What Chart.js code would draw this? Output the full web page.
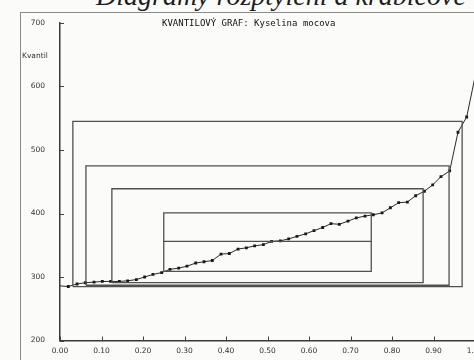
<!DOCTYPE html>
<html>
<head>
<meta charset="utf-8">
<script src="https://cdn.jsdelivr.net/npm/chart.js@4.4.0/dist/chart.umd.min.js"></script>
<style>
  html, body { margin:0; padding:0; width:474px; height:360px; overflow:hidden; background:#fbfbf9; }
  #frame { position:absolute; left:20px; top:12px; width:520px; height:400px; border-left:1.5px solid #8a8a8a; border-top:1.5px solid #8a8a8a; }
  #heading { position:absolute; left:96px; top:-18px; font:italic 28px "Liberation Serif", serif; line-height:28px; color:#1e1e1e; white-space:nowrap; }
  #title { position:absolute; left:162px; top:18px; font:9px "DejaVu Sans Mono", monospace; line-height:10px; color:#111; white-space:nowrap; }
  #ylab { position:absolute; left:22px; top:52px; font:7.5px "DejaVu Sans", sans-serif; line-height:8px; color:#333; }
  #c { position:absolute; left:0; top:0; }
</style>
</head>
<body>
<div id="frame"></div>
<div id="heading">Diagramy rozptýlení a krabicové</div>
<canvas id="c" width="520" height="360"></canvas>
<div id="title">KVANTILOVÝ GRAF: Kyselina mocova</div>
<div id="ylab">Kvantil</div>
<script>
  // kvantilove pozice (i/49) a hodnoty
  const pozice = [0, 0.020, 0.041, 0.061, 0.082, 0.102, 0.122, 0.143, 0.163, 0.184, 0.204,
    0.224, 0.245, 0.265, 0.286, 0.306, 0.327, 0.347, 0.367, 0.388, 0.408,
    0.429, 0.449, 0.469, 0.490, 0.510, 0.531, 0.551, 0.571, 0.592, 0.612,
    0.633, 0.653, 0.673, 0.694, 0.714, 0.735, 0.755, 0.776, 0.796, 0.816,
    0.837, 0.857, 0.878, 0.898, 0.918, 0.939, 0.959, 0.980, 1];
  const kvantily = [286, 285, 289, 291, 292, 293, 293, 293, 294, 296, 300,
    304, 307, 312, 314, 317, 322, 324, 326, 336, 337,
    344, 346, 349, 351, 356, 357, 360, 364, 368, 373,
    378, 384, 383, 388, 393, 396, 398, 401, 409, 417,
    418, 428, 435, 445, 458, 467, 528, 552, 615];

  // krabice: kvartily, oktily, sedecily, ...
  const boxLeft   = [0.031, 0.0625, 0.125, 0.25];
  const boxRight  = [0.969, 0.9375, 0.875, 0.75];
  const boxBottom = [285, 287, 291, 309];
  const boxTop    = [545, 475, 439, 401];
  const median = 356;

  const xTicks = [0, 0.1, 0.2, 0.3, 0.4, 0.5, 0.6, 0.7, 0.8, 0.9, 1.0];
  const yTicks = [200, 300, 400, 500, 600, 700];

  const boxSets = boxLeft.map((l,i)=>({
    data:[
      {x:l, y:boxBottom[i]}, {x:l, y:boxTop[i]}, {x:boxRight[i], y:boxTop[i]},
      {x:boxRight[i], y:boxBottom[i]}, {x:l, y:boxBottom[i]}
    ],
    borderColor:'#505050', borderWidth:1.3, pointRadius:0, tension:0, fill:false
  }));
  boxSets.push({
    data:[{x:boxLeft[3], y:median}, {x:boxRight[3], y:median}],
    borderColor:'#505050', borderWidth:1.3, pointRadius:0, fill:false
  });

  const curve = {
    data: pozice.map((p,i)=>({x:p, y:kvantily[i]})),
    borderColor:'#2a2a2a', borderWidth:1,
    pointStyle:'rect',
    pointRadius: ctx => (ctx.dataIndex===0 || ctx.dataIndex===pozice.length-1) ? 0 : 2,
    pointBackgroundColor:'#1a1a1a', pointBorderColor:'#1a1a1a', pointBorderWidth:0,
    tension:0, fill:false
  };

  // male znacky smerem dovnitr grafu
  const innerTicks = {
    id:'innerTicks',
    afterDraw(chart){
      const {x, y} = chart.scales;
      const ctx = chart.ctx;
      ctx.save();
      ctx.strokeStyle = '#444';
      ctx.lineWidth = 1;
      yTicks.forEach(v=>{
        const py = Math.round(y.getPixelForValue(v)) + 0.5;
        ctx.beginPath(); ctx.moveTo(x.left, py); ctx.lineTo(x.left+4, py); ctx.stroke();
      });
      xTicks.forEach(v=>{
        const px = Math.round(x.getPixelForValue(v)) + 0.5;
        ctx.beginPath(); ctx.moveTo(px, y.bottom); ctx.lineTo(px, y.bottom-4); ctx.stroke();
      });
      ctx.restore();
    }
  };

  new Chart(document.getElementById('c').getContext('2d'), {
    type:'line',
    data:{ datasets:[...boxSets, curve] },
    options:{
      responsive:false, animation:false, devicePixelRatio:1,
      layout:{ padding:{ left:0, top:23, right:45, bottom:0 } },
      plugins:{ legend:{display:false}, tooltip:{enabled:false}, title:{display:false} },
      scales:{
        x:{
          type:'linear', min:0, max:1,
          afterFit(s){ s.height = 17; },
          afterBuildTicks(s){ s.ticks = xTicks.map(v=>({value:v})); },
          grid:{ display:false, drawTicks:false },
          border:{ display:true, color:'#3a3a3a', width:1.5 },
          ticks:{ padding:6, color:'#333', font:{ family:'DejaVu Sans', size:7.5 },
                  maxRotation:0, autoSkip:false, callback:v=>v.toFixed(2) }
        },
        y:{
          type:'linear', min:200, max:700,
          afterFit(s){ s.width = 60; },
          afterBuildTicks(s){ s.ticks = yTicks.map(v=>({value:v})); },
          grid:{ display:false, drawTicks:false },
          border:{ display:true, color:'#3a3a3a', width:1.5 },
          ticks:{ padding:15, color:'#333', font:{ family:'DejaVu Sans', size:7.5 } }
        }
      }
    },
    plugins:[innerTicks]
  });
</script>
</body>
</html>
